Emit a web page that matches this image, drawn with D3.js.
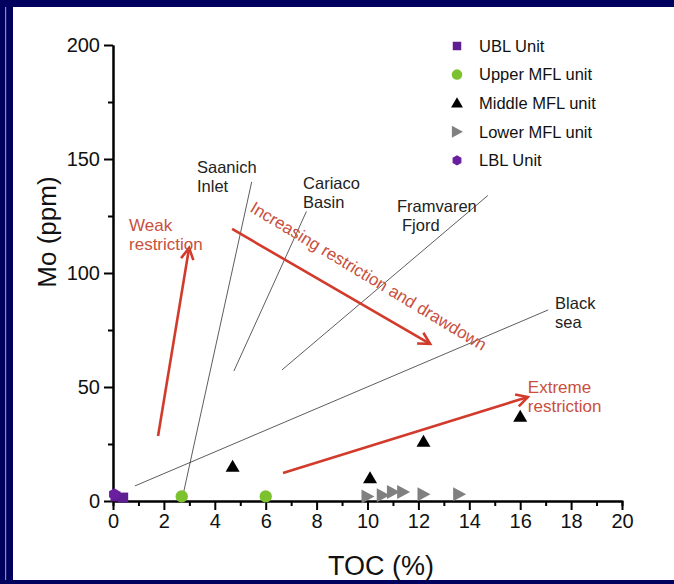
<!DOCTYPE html>
<html>
<head>
<meta charset="utf-8">
<script src="https://cdn.jsdelivr.net/npm/d3@7"></script>
<style>
  html, body { margin: 0; padding: 0; background: #fff; overflow: hidden; }
  svg { display: block; font-family: "Liberation Sans", Arial, sans-serif; }
</style>
</head>
<body>
<div id="chart"></div>
<script>
// data (TOC %, Mo ppm)
const ublUnit = [[0.1, 2], [0.4, 1.5]];
const upperMfl = [[2.7, 2], [6.0, 2]];
const middleMfl = [[4.7, 15], [10.1, 10], [12.2, 26], [16.0, 37]];
const lowerMfl = [[10.0, 2], [10.6, 2.5], [11.0, 4], [11.4, 4], [12.2, 3], [13.6, 3]];
const lblUnit = [[0.05, 3]];

const xTicks = [0, 2, 4, 6, 8, 10, 12, 14, 16, 18, 20];
const yTicks = [0, 50, 100, 150, 200];

// modern anoxic basin trends (start, end)
const basinLines = [
  { name: ['Saanich', 'Inlet'], from: [2.75, 2.6], to: [5.45, 140], label: [3.3, 143.9] },
  { name: ['Cariaco', 'Basin'], from: [4.75, 57], to: [7.6, 127], label: [7.47, 136.8] },
  { name: ['Framvaren', 'Fjord'], from: [6.64, 57.5], to: [14.73, 134], label: [11.16, 126.8] },
  { name: ['Black', 'sea'], from: [0.86, 6.6], to: [17.1, 83.8], label: [17.37, 84.2] }
];

// trend arrows
const arrows = [
  { name: ['Weak', 'restriction'], from: [1.77, 28.5], to: [2.99, 111], label: [0.63, 118.4] },
  { name: ['Increasing restriction and drawdown'], from: [4.68, 119.3], to: [12.46, 68.9], label: [5.34, 127.2], angle: 31 },
  { name: ['Extreme', 'restriction'], from: [6.68, 12.3], to: [16.3, 45.6], label: [16.3, 47.4] }
];

const legendItems = [
  { key: 'UBL Unit', shape: 'square', color: '#5e1f91' },
  { key: 'Upper MFL unit', shape: 'circle', color: '#7cc22e' },
  { key: 'Middle MFL unit', shape: 'triangle', color: '#000' },
  { key: 'Lower MFL unit', shape: 'right', color: '#808080' },
  { key: 'LBL  Unit', shape: 'hexagon', color: '#6a1fa0' }
];

const width = 674, height = 584;
const margin = { top: 45, right: 52, bottom: 83, left: 113 };
const red = '#d23b2b', redText = '#c8503e';

const x = d3.scaleLinear().domain([0, 20]).range([margin.left, width - margin.right]);
const y = d3.scaleLinear().domain([0, 200]).range([height - margin.bottom, margin.top]);

const svg = d3.select('#chart').append('svg')
  .attr('width', width)
  .attr('height', height);

// frame
svg.append('rect').attr('width', width).attr('height', height).attr('fill', '#00005f');
svg.append('rect').attr('x', 13).attr('y', 7).attr('width', width - 13).attr('height', height - 11).attr('fill', '#fff');
svg.append('rect').attr('x', 5).attr('y', 7).attr('width', 1.2).attr('height', height - 11).attr('fill', '#8a8ab8');

// markers
const shapePath = (shape) => {
  switch (shape) {
    case 'square': return 'M-5,-5H5V5H-5Z';
    case 'circle': return d3.symbol(d3.symbolCircle, 120)();
    case 'triangle': return 'M0,-7L7,5H-7Z';
    case 'right': return 'M-6,-7L7,0L-6,7Z';
    case 'hexagon': return d3.range(6).map(i => {
      const a = Math.PI / 3 * i + Math.PI / 6;
      return (i ? 'L' : 'M') + (6 * Math.cos(a)).toFixed(2) + ',' + (6 * Math.sin(a)).toFixed(2);
    }).join('') + 'Z';
  }
};

// basin lines
svg.append('g')
  .selectAll('line')
  .data(basinLines)
  .join('line')
  .attr('x1', d => x(d.from[0])).attr('y1', d => y(d.from[1]))
  .attr('x2', d => x(d.to[0])).attr('y2', d => y(d.to[1]))
  .attr('stroke', '#333')
  .attr('stroke-width', 0.8);

const multiline = (g, color, size) => g.each(function (d) {
  const t = d3.select(this)
    .attr('transform', `translate(${x(d.label[0])},${y(d.label[1])})` + (d.angle ? ` rotate(${d.angle})` : ''))
    .attr('fill', color)
    .attr('font-size', size);
  d.name.forEach((s, i) => t.append('tspan')
    .attr('x', (d.name[0] === 'Framvaren' && i === 1) ? 5 : 0)
    .attr('dy', i ? 19 : 0)
    .text(s));
});

svg.append('g')
  .selectAll('text')
  .data(basinLines)
  .join('text')
  .call(multiline, '#222', 16.5);

// arrows
const arrowHead = (d) => {
  const x0 = x(d.from[0]), y0 = y(d.from[1]), x1 = x(d.to[0]), y1 = y(d.to[1]);
  const a = Math.atan2(y1 - y0, x1 - x0), L = 13, w = 0.5;
  return `M${x1 - L * Math.cos(a - w)},${y1 - L * Math.sin(a - w)}L${x1},${y1}L${x1 - L * Math.cos(a + w)},${y1 - L * Math.sin(a + w)}`;
};

const ag = svg.append('g');
ag.selectAll('line')
  .data(arrows)
  .join('line')
  .attr('x1', d => x(d.from[0])).attr('y1', d => y(d.from[1]))
  .attr('x2', d => x(d.to[0])).attr('y2', d => y(d.to[1]))
  .attr('stroke', red)
  .attr('stroke-width', 2.6);
ag.selectAll('path')
  .data(arrows)
  .join('path')
  .attr('d', arrowHead)
  .attr('fill', 'none')
  .attr('stroke', red)
  .attr('stroke-width', 2.6);

svg.append('g')
  .selectAll('text')
  .data(arrows)
  .join('text')
  .call(multiline, redText, 17);

// axes
const xAxis = g => g
  .attr('transform', `translate(0,${y(0)})`)
  .call(d3.axisBottom(x).tickValues(d3.range(1, 20, 2)).tickSize(5).tickFormat(''))
  .call(g => g.append('g').call(d3.axisBottom(x).tickValues(xTicks).tickSize(9).tickSizeOuter(0).tickPadding(4)))
  .call(g => g.selectAll('.domain').attr('stroke-width', 2))
  .call(g => g.selectAll('.tick line').attr('stroke-width', 2))
  .call(g => g.selectAll('text').attr('font-size', 20).attr('font-family', 'Liberation Sans, Arial, sans-serif').attr('fill', '#111'));

const yAxis = g => g
  .attr('transform', `translate(${x(0)},0)`)
  .call(d3.axisLeft(y).tickValues(d3.range(25, 200, 50)).tickSize(5).tickFormat('').tickSizeOuter(0))
  .call(g => g.append('g').call(d3.axisLeft(y).tickValues(yTicks).tickSize(9).tickSizeOuter(0).tickPadding(4)))
  .call(g => g.selectAll('.domain').attr('stroke-width', 2))
  .call(g => g.selectAll('.tick line').attr('stroke-width', 2))
  .call(g => g.selectAll('text').attr('font-size', 20).attr('font-family', 'Liberation Sans, Arial, sans-serif').attr('fill', '#111'));

svg.append('g').call(xAxis);
svg.append('g').call(yAxis);

svg.append('text')
  .attr('x', 381)
  .attr('y', 575)
  .attr('text-anchor', 'middle')
  .attr('font-size', 27)
  .attr('fill', '#111')
  .text('TOC (%)');

svg.append('text')
  .attr('transform', 'translate(56,232) rotate(-90)')
  .attr('text-anchor', 'middle')
  .attr('font-size', 26)
  .attr('fill', '#111')
  .text('Mo (ppm)');

// points
const series = [ublUnit, upperMfl, middleMfl, lowerMfl, lblUnit];
const pg = svg.append('g');
series.forEach((pts, i) => {
  pg.append('g')
    .selectAll('path')
    .data(pts)
    .join('path')
    .attr('transform', d => `translate(${x(d[0])},${y(d[1])})`)
    .attr('d', shapePath(legendItems[i].shape))
    .attr('fill', legendItems[i].color);
});

// legend
const lg = svg.append('g').selectAll('g')
  .data(legendItems)
  .join('g')
  .attr('transform', (d, i) => `translate(457,${46 + i * 28.6})`);
lg.append('path')
  .attr('d', d => shapePath(d.shape))
  .attr('transform', 'scale(0.85)')
  .attr('fill', d => d.color);
lg.append('text')
  .attr('x', 22)
  .attr('dy', '0.35em')
  .attr('font-size', 16.5)
  .attr('fill', '#111')
  .text(d => d.key);
</script>
</body>
</html>
